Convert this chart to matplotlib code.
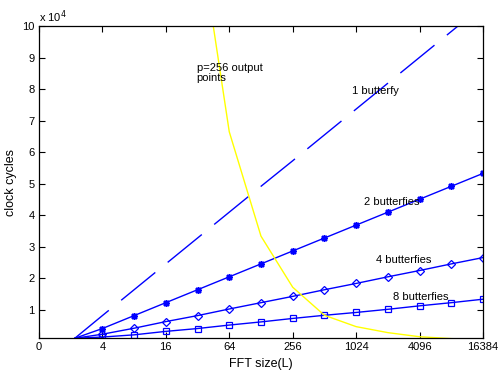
import matplotlib
matplotlib.use("Agg")
import matplotlib.pyplot as plt

plt.rcParams['font.family'] = ['Liberation Sans', 'DejaVu Sans']

# x positions are log2(L); first entry is the common start point of the lines
log2_L = [1.13, 2, 3, 4, 5, 6, 7, 8, 9, 10, 11, 12, 13, 14]
one_butterfly = [0.1, 0.82, 1.64, 2.46, 3.28, 4.10, 4.92, 5.73, 6.55, 7.37, 8.19, 9.01, 9.83, 10.65]
two_butterflies = [0.1, 0.41, 0.82, 1.23, 1.64, 2.05, 2.46, 2.87, 3.28, 3.69, 4.10, 4.51, 4.92, 5.33]
four_butterflies = [0.1, 0.23, 0.42, 0.63, 0.82, 1.03, 1.23, 1.43, 1.64, 1.84, 2.05, 2.25, 2.46, 2.66]
eight_butterflies = [0.1, 0.14, 0.21, 0.32, 0.41, 0.52, 0.62, 0.73, 0.83, 0.92, 1.02, 1.13, 1.23, 1.34]

p256_x = [5, 6, 7, 8, 9, 10, 11, 12, 13, 14]
p256_cycles = [13.3, 6.65, 3.34, 1.72, 0.83, 0.47, 0.28, 0.15, 0.09, 0.06]

xtick_pos = [0, 2, 4, 6, 8, 10, 12, 14]
xtick_labels = ['0', '4', '16', '64', '256', '1024', '4096', '16384']
ytick_vals = [1, 2, 3, 4, 5, 6, 7, 8, 9, 10]
scale = 1e4

fig = plt.figure(figsize=(4.99, 3.73), dpi=100)
ax = fig.add_axes([0.078, 0.093, 0.890, 0.837])

mk = slice(1, None)
ax.plot(log2_L, [v * scale for v in one_butterfly], color='#0000ff', lw=1,
        linestyle=(0, (31.7, 11.5)))
ax.plot(log2_L, [v * scale for v in two_butterflies], color='#0000ff', lw=1,
        marker=(8, 2, 0), markersize=5, markeredgewidth=1.1, markevery=mk)
ax.plot(log2_L, [v * scale for v in four_butterflies], color='#0000ff', lw=1,
        marker='D', markersize=4.3, markerfacecolor='none', markeredgewidth=0.9,
        markevery=mk)
ax.plot(log2_L, [v * scale for v in eight_butterflies], color='#0000ff', lw=1,
        marker='s', markersize=5, markerfacecolor='none', markeredgewidth=0.9,
        markevery=mk)
ax.plot(p256_x, [v * scale for v in p256_cycles], color='#ffff00', lw=1)

ax.set_xlim(0, 14)
ax.set_ylim(0.1 * scale, 10 * scale)
ax.set_xticks(xtick_pos)
ax.set_xticklabels(xtick_labels)
ax.set_yticks([v * scale for v in ytick_vals])
ax.set_yticklabels([str(v) for v in ytick_vals])
ax.tick_params(direction='in', top=True, right=True, length=4, width=0.8,
               labelsize=8, pad=3)
for s in ax.spines.values():
    s.set_linewidth(0.9)

ax.text(0.0, 1.003, r'x 10$^{4}$', transform=ax.transAxes, fontsize=8,
        ha='left', va='bottom')

ax.set_xlabel('FFT size(L)', fontsize=9)
ax.set_ylabel('clock cycles', fontsize=9)

ax.text(4.97, 8.5 * scale, 'p=256 output\npoints', fontsize=8, ha='left',
        va='center', linespacing=1.0)
ax.text(9.86, 7.94 * scale, '1 butterfy', fontsize=8, ha='left', va='center')
ax.text(10.26, 4.41 * scale, '2 butterfies', fontsize=8, ha='left', va='center')
ax.text(10.63, 2.57 * scale, '4 butterfies', fontsize=8, ha='left', va='center')
ax.text(11.15, 1.40 * scale, '8 butterfies', fontsize=8, ha='left', va='center')

fig.savefig('out.png', dpi=100)
